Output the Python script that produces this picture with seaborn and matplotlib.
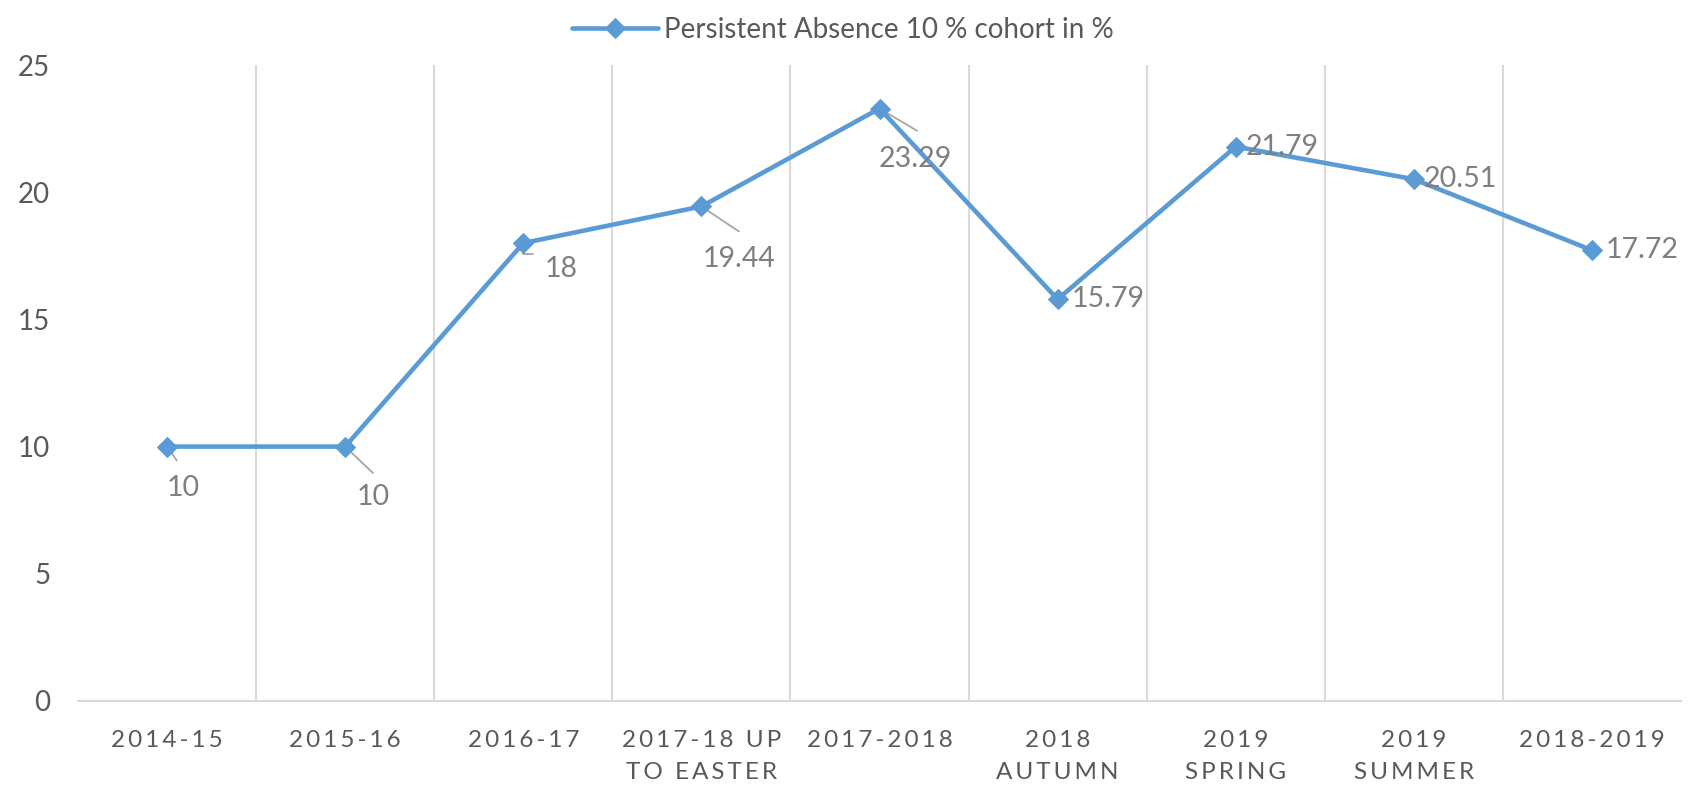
import matplotlib
matplotlib.use('Agg')
import matplotlib.pyplot as plt
import seaborn as sns
import pandas as pd

periods = ['2014-15', '2015-16', '2016-17', '2017-18 UP\nTO EASTER', '2017-2018',
           '2018\nAUTUMN', '2019\nSPRING', '2019\nSUMMER', '2018-2019']
values = [10, 10, 18, 19.44, 23.29, 15.79, 21.79, 20.51, 17.72]
value_labels = ['10', '10', '18', '19.44', '23.29', '15.79', '21.79', '20.51', '17.72']
series_name = 'Persistent Absence 10 % cohort in %'

# label placement (points) and leader line ends
label_offsets = [(12, -30), (20, -36), (27, -19), (27, -38), (26, -36),
                 (10, 0), (7, 0), (7, 0), (10, 0)]
label_align = ['center'] * 5 + ['left'] * 4
leader_ends = [(7, -10), (20, -19), (7, -8), (27, -18), (27, -16), None, None, None, None]

BLUE = '#5B9BD5'
GRID = '#D9D9D9'
FAM = ['Lato', 'DejaVu Sans']


def spaced(s):
    # fake the wide letter spacing of the category labels
    return '\n'.join('\u2009'.join(line) for line in s.split('\n'))


def main():
    sns.set_style('white')
    plt.rcParams['font.family'] = FAM

    df = pd.DataFrame({'period': range(len(periods)), 'value': values})

    fig = plt.figure(figsize=(17.03, 7.87), dpi=100)
    ax = fig.add_axes([0.0458, 0.1093, 0.9413, 0.8081])

    sns.lineplot(data=df, x='period', y='value', ax=ax, color=BLUE, lw=3.3,
                 marker='D', markersize=10, markeredgecolor=BLUE,
                 label=series_name, zorder=3)

    ax.set_xlim(-0.5, len(periods) - 0.5)
    ax.set_ylim(0, 25)
    ax.set_yticks(range(0, 26, 5))

    # category boundary gridlines
    for b in range(1, len(periods)):
        ax.axvline(b - 0.5, color=GRID, lw=1.5, zorder=1)

    ax.set_xticks(range(len(periods)))
    ax.set_xticklabels([spaced(p) for p in periods], fontsize=17.5,
                       color='#595959', linespacing=1.62)
    ax.tick_params(axis='x', length=0, pad=21)
    ax.tick_params(axis='y', length=0, pad=20, labelsize=20, labelcolor='#595959')
    for lab in ax.get_yticklabels():
        lab.set_family(FAM)

    for side in ['left', 'right', 'top']:
        ax.spines[side].set_visible(False)
    ax.spines['bottom'].set_color(GRID)
    ax.spines['bottom'].set_linewidth(1.5)
    ax.set_xlabel('')
    ax.set_ylabel('')

    for i, v in enumerate(values):
        end = leader_ends[i]
        if end is not None:
            cs = 'angle,angleA=0,angleB=90,rad=0' if i == 2 else 'arc3'
            ax.annotate('', xy=(i, v), xytext=end, textcoords='offset points',
                        arrowprops=dict(arrowstyle='-', color='#A6A6A6', lw=1.3,
                                        shrinkA=0, shrinkB=0, connectionstyle=cs),
                        zorder=2)
        ax.annotate(value_labels[i], xy=(i, v), xytext=label_offsets[i],
                    textcoords='offset points', ha=label_align[i], va='center',
                    fontsize=20.5, color='#7F7F7F', family=FAM, zorder=4)

    ax.get_legend().remove()
    handles, labels = ax.get_legend_handles_labels()
    fig.legend(handles, labels, loc='upper center', bbox_to_anchor=(843 / 1703, 1.01),
               frameon=False, handlelength=3.1, handletextpad=0.2,
               labelcolor='#595959', prop={'family': FAM, 'size': 20})

    fig.savefig('out.png', dpi=100, facecolor='white')
    plt.close(fig)


if __name__ == '__main__':
    main()
